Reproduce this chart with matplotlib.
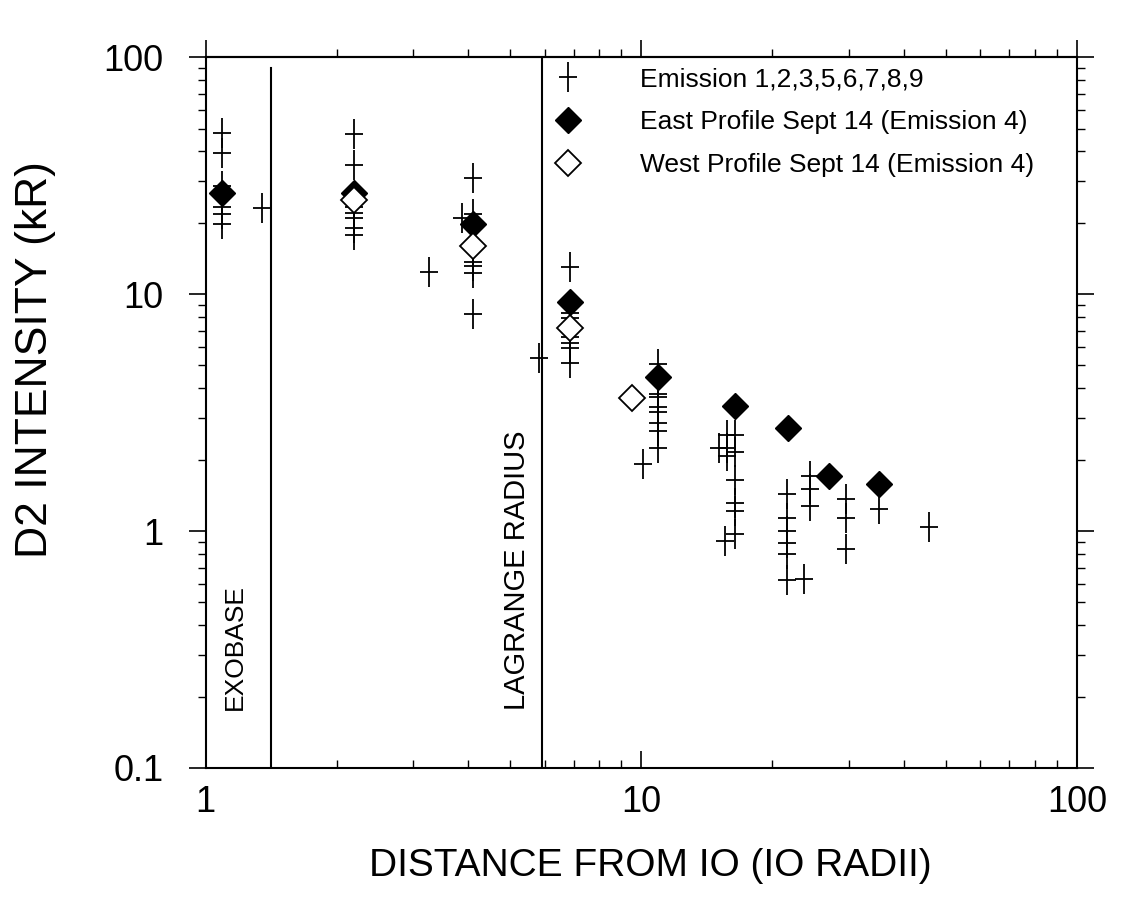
import numpy as np
import matplotlib.pyplot as plt
from matplotlib.path import Path
from matplotlib.ticker import LogLocator, NullFormatter, FixedLocator, FixedFormatter

plt.rcParams['font.family'] = ['Liberation Sans', 'DejaVu Sans']

# ---- data ----
emis_x = [1.09, 1.09, 1.09, 1.09, 1.09, 1.09,
          1.35,
          2.19, 2.19, 2.19, 2.19, 2.19, 2.19, 2.19,
          4.10, 4.10, 4.10, 4.10, 4.10, 4.10, 4.10,
          3.87, 3.25,
          6.85, 6.85, 6.85, 6.85, 6.85, 6.85, 6.85,
          5.82,
          10.9, 10.9, 10.9, 10.9, 10.9, 10.9, 10.9, 10.9,
          10.1,
          15.1, 15.7, 15.7, 15.7,
          16.4, 16.4, 16.4, 16.4, 16.4, 16.4, 15.6,
          21.6, 21.6, 21.6, 21.6, 21.6, 21.6, 23.6,
          24.4, 24.4, 24.4,
          29.5, 29.5, 29.5,
          35.1, 45.7]
emis_y = [48, 39.5, 28.7, 23.4, 21.8, 19.8,
          23.2,
          47.6, 35.2, 23.4, 22.0, 21.0, 19.0, 17.8,
          31.0, 21.8, 16.0, 13.6, 13.1, 12.3, 8.26,
          21.0, 12.4,
          13.0, 8.3, 7.9, 6.6, 6.2, 5.9, 5.1,
          5.4,
          5.06, 3.79, 3.68, 3.34, 3.19, 2.86, 2.64, 2.24,
          1.92,
          2.24, 2.54, 2.24, 2.07,
          2.54, 2.16, 1.64, 1.31, 1.21, 0.97, 0.91,
          1.43, 1.13, 1.0, 0.89, 0.80, 0.62, 0.63,
          1.71, 1.50, 1.27,
          1.36, 1.13, 0.84,
          1.24, 1.04]

east_x = [1.09, 2.19, 4.10, 6.85, 10.9, 16.4, 21.7, 27.0, 35.1]
east_y = [26.8, 26.8, 19.8, 9.3, 4.47, 3.37, 2.72, 1.71, 1.58]

west_x = [2.19, 4.10, 6.85, 9.51]
west_y = [25.0, 16.0, 7.2, 3.65]

exobase = 1.41
lagrange = 5.91

# tall cross marker (vertical arm longer than horizontal)
cross = Path([(-0.32, 0), (0.32, 0), (0, -0.5), (0, 0.5)],
             [Path.MOVETO, Path.LINETO, Path.MOVETO, Path.LINETO])

# ---- plot ----
fig = plt.figure(figsize=(11.23, 9.23), dpi=100)
ax = fig.add_axes([0.183, 0.168, 0.776, 0.770])

ax.plot(emis_x, emis_y, ls='none', marker=cross, color='black', markersize=21,
        markeredgewidth=1.3, label="Emission 1,2,3,5,6,7,8,9")
ax.plot(east_x, east_y, 'D', color='black', markersize=13,
        label="East Profile Sept 14 (Emission 4)")
ax.plot(west_x, west_y, 'D', markerfacecolor='white', markeredgecolor='black',
        markersize=13, markeredgewidth=1.3,
        label="West Profile Sept 14 (Emission 4)")

ax.axvline(exobase, ymin=0, ymax=0.985, color='black', lw=1.5)
ax.axvline(lagrange, color='black', lw=1.5)

ax.text(1.166, 0.175, "EXOBASE", rotation=90, fontsize=19, ha='center', va='bottom')
ax.text(5.18, 0.175, "LAGRANGE RADIUS", rotation=90, fontsize=21, ha='center', va='bottom')

ax.set_xscale('log')
ax.set_yscale('log')
ax.set_xlim(1, 100)
ax.set_ylim(0.1, 100)

ax.xaxis.set_major_locator(FixedLocator([1, 10, 100]))
ax.xaxis.set_major_formatter(FixedFormatter(["1", "10", "100"]))
ax.yaxis.set_major_locator(FixedLocator([0.1, 1, 10, 100]))
ax.yaxis.set_major_formatter(FixedFormatter(["0.1", "1", "10", "100"]))
ax.xaxis.set_minor_locator(LogLocator(base=10, subs=np.arange(2, 10)))
ax.yaxis.set_minor_locator(LogLocator(base=10, subs=np.arange(2, 10)))
ax.xaxis.set_minor_formatter(NullFormatter())
ax.yaxis.set_minor_formatter(NullFormatter())

ax.tick_params(axis='both', which='major', labelsize=26, length=12, width=1.2)
ax.tick_params(axis='both', which='minor', length=6, width=1.0)
ax.tick_params(axis='y', which='both', direction='out', right=True, pad=18)
ax.tick_params(axis='x', which='both', direction='in', top=False, pad=12)
for s in ax.spines.values():
    s.set_linewidth(1.5)

# top axis: ticks pointing outwards, no labels
top = ax.secondary_xaxis('top')
top.xaxis.set_major_locator(FixedLocator([1, 10, 100]))
top.xaxis.set_minor_locator(LogLocator(base=10, subs=np.arange(2, 10)))
top.xaxis.set_major_formatter(NullFormatter())
top.xaxis.set_minor_formatter(NullFormatter())
top.tick_params(which='major', direction='out', length=12, width=1.2)
top.tick_params(which='minor', direction='out', length=6, width=1.0)
top.spines['top'].set_linewidth(1.5)

ax.set_xlabel("DISTANCE FROM IO (IO RADII)", fontsize=28)
ax.xaxis.set_label_coords(0.51, -0.113)
ax.set_ylabel("D2 INTENSITY (kR)", fontsize=32)
ax.yaxis.set_label_coords(-0.172, 0.574)

ax.legend(loc='upper left', bbox_to_anchor=(0.365, 1.012), frameon=False,
          fontsize=19, handletextpad=1.7, labelspacing=0.72, borderaxespad=0.3)

plt.savefig("out.png", dpi=100)
